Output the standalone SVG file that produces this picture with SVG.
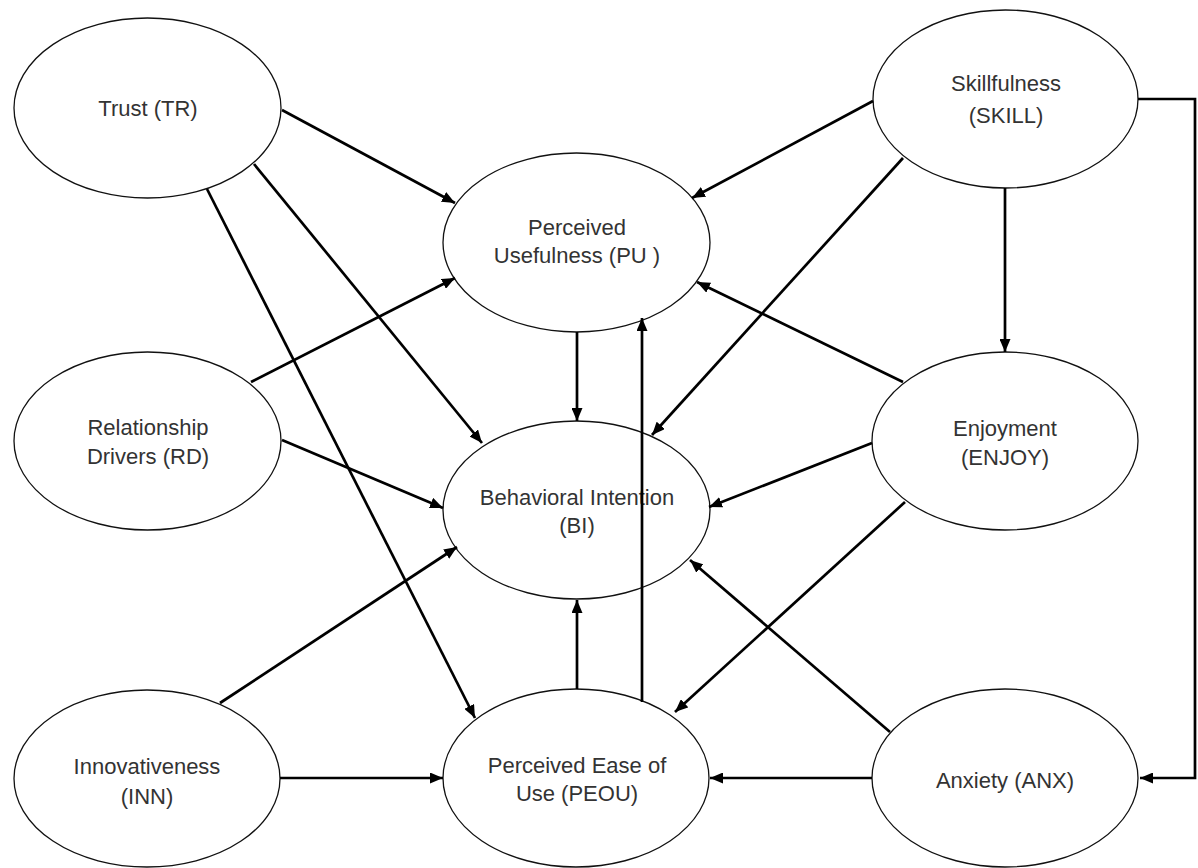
<svg xmlns="http://www.w3.org/2000/svg" width="1198" height="868" viewBox="0 0 1198 868">
<defs>
<marker id="arr" markerUnits="userSpaceOnUse" markerWidth="13" markerHeight="11" refX="13" refY="5.5" orient="auto">
<path d="M0,0 L13,5.5 L0,11 z" fill="#000"/>
</marker>
<style>
.node ellipse{fill:#fff;stroke:#111;stroke-width:1.3}
.node text{font-family:"Liberation Sans",Arial,sans-serif;font-size:22px;fill:#333;text-anchor:middle}
#connectors line,#connectors path{stroke:#000;stroke-width:2.7;fill:none}
.a{marker-end:url(#arr)}
</style>
</defs>
<rect width="1198" height="868" fill="#fff"/>
<g id="TR" class="node"><ellipse cx="147.5" cy="108" rx="133.5" ry="90"/><text x="148" y="116">Trust (TR)</text></g>
<g id="SKILL" class="node"><ellipse cx="1005.5" cy="99" rx="132.5" ry="89"/><text x="1006" y="91">Skillfulness</text><text x="1006" y="123">(SKILL)</text></g>
<g id="PU" class="node"><ellipse cx="576.5" cy="242.5" rx="133.5" ry="89.5"/><text x="577" y="235">Perceived</text><text x="577" y="263">Usefulness (PU )</text></g>
<g id="RD" class="node"><ellipse cx="147.5" cy="441" rx="133.5" ry="89"/><text x="148" y="435">Relationship</text><text x="148" y="464">Drivers (RD)</text></g>
<g id="BI" class="node"><ellipse cx="576.5" cy="510" rx="133.5" ry="89"/><text x="577" y="505">Behavioral Intention</text><text x="577" y="533">(BI)</text></g>
<g id="ENJOY" class="node"><ellipse cx="1005" cy="441" rx="133" ry="89"/><text x="1005" y="436">Enjoyment</text><text x="1005" y="465">(ENJOY)</text></g>
<g id="INN" class="node"><ellipse cx="147" cy="778.5" rx="133" ry="88.5"/><text x="147" y="774">Innovativeness</text><text x="147" y="804">(INN)</text></g>
<g id="PEOU" class="node"><ellipse cx="576" cy="778" rx="133" ry="89"/><text x="577" y="773">Perceived Ease of</text><text x="577" y="801">Use (PEOU)</text></g>
<g id="ANX" class="node"><ellipse cx="1005" cy="778" rx="133" ry="89"/><text x="1005" y="788">Anxiety (ANX)</text></g>
<g id="connectors">
<line class="a" x1="282" y1="110" x2="455" y2="203"/>
<line class="a" x1="254" y1="164" x2="482" y2="443"/>
<line class="a" x1="207" y1="189" x2="475" y2="718"/>
<line class="a" x1="251" y1="382" x2="455" y2="278"/>
<line class="a" x1="282" y1="440" x2="443" y2="508"/>
<line class="a" x1="220" y1="703" x2="457" y2="547"/>
<line class="a" x1="280" y1="778" x2="443" y2="778"/>
<line class="a" x1="577" y1="332" x2="577" y2="421"/>
<line class="a" x1="577" y1="689" x2="577" y2="600"/>
<line class="a" x1="642" y1="702" x2="642" y2="318"/>
<line class="a" x1="873" y1="101" x2="692" y2="198"/>
<line class="a" x1="903" y1="158" x2="652" y2="435"/>
<line class="a" x1="1005" y1="188" x2="1005" y2="352"/>
<path class="a" d="M1138,99 L1195,99 L1195,778 L1140,778"/>
<line class="a" x1="903" y1="382" x2="697" y2="282"/>
<line class="a" x1="872" y1="443" x2="709" y2="507"/>
<line class="a" x1="905" y1="502" x2="675" y2="712"/>
<line class="a" x1="890" y1="732" x2="690" y2="560"/>
<line class="a" x1="872" y1="778" x2="710" y2="778"/>
</g>
</svg>
